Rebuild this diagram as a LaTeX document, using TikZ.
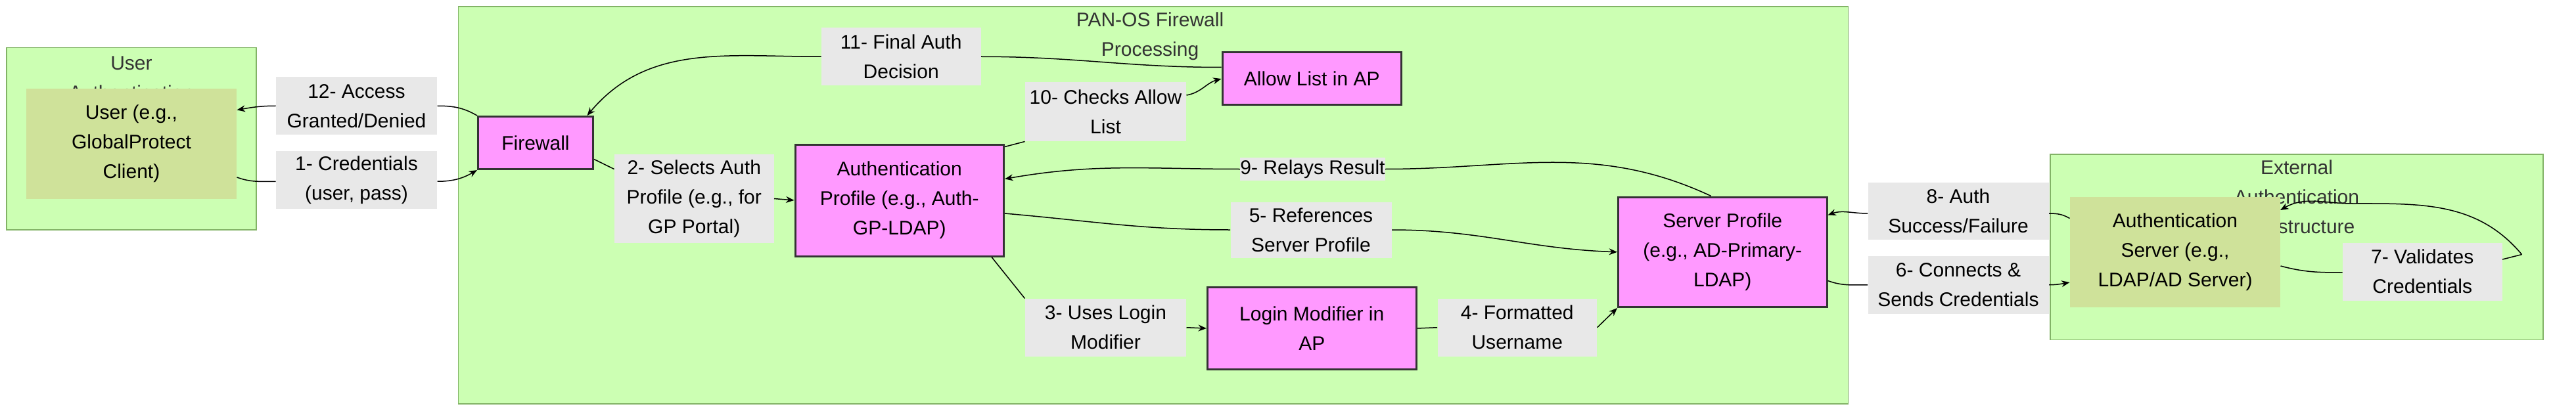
\documentclass[tikz,border=0pt]{standalone}
\usepackage{fontspec}
\setmainfont{Liberation Sans}
\usetikzlibrary{positioning, arrows.meta, calc}
\definecolor{clfill}{HTML}{CCFFB3}
\definecolor{cldraw}{HTML}{82B366}
\definecolor{stepfill}{HTML}{FF99FF}
\definecolor{actfill}{HTML}{CFE29A}
\definecolor{lblfill}{HTML}{E8E8E8}
\definecolor{titlecol}{HTML}{333333}
\tikzset{
  cluster/.style={draw=cldraw, fill=clfill, line width=0.6pt},
  cltitle/.style={text=titlecol, align=center, font=\fontsize{12}{18}\selectfont, anchor=north},
  procbox/.style={draw=titlecol, fill=stepfill, line width=1.2pt, align=center,
    font=\fontsize{12}{18}\selectfont, inner sep=0pt},
  actor/.style={draw=none, fill=actfill, align=center,
    font=\fontsize{12}{18}\selectfont, inner sep=0pt},
  lbl/.style={fill=lblfill, align=center, font=\fontsize{12}{18}\selectfont,
    inner sep=0pt},
  flow/.style={line width=0.6pt, -{Stealth[length=5pt,width=4pt]}},
  link/.style={line width=0.6pt}
}
\newcommand{\boxnode}[6]{% style, name, x1, y1, x2, y2
  \node[#1, minimum width=#5-#3, minimum height=#6-#4] (#2) at ({(#3+#5)/2},{(#4+#6)/2})}

\begin{document}
\begin{tikzpicture}[x=1pt, y=-1pt]
\useasboundingbox (0,0) rectangle (1568,254);

% clusters
\draw[cluster] (4,29) rectangle (156,140);
\node[cltitle] (ttluser) at (80,31) {User\\Authentication};
\draw[cluster] (279,4) rectangle (1125,246);
\node[cltitle] (ttlpan) at (700,4) {PAN-OS Firewall\\Processing};
\draw[cluster] (1248,94) rectangle (1548,207);
\node[cltitle] (ttlext) at (1398,94) {External\\Authentication\\Infrastructure};

% nodes
\boxnode{actor}{user}{16}{54}{144}{121} {User (e.g.,\\GlobalProtect\\Client)};
\boxnode{procbox}{fw}{291}{71}{361}{103} {Firewall};
\boxnode{procbox}{aprof}{484}{88}{611}{156} {Authentication\\Profile (e.g., Auth-\\GP-LDAP)};
\boxnode{procbox}{allow}{744}{32}{853}{64} {Allow List in AP};
\boxnode{procbox}{lmod}{735}{175}{862}{225} {Login Modifier in\\AP};
\boxnode{procbox}{sprof}{985}{120}{1112}{187} {Server Profile\\(e.g., AD-Primary-\\LDAP)};
\boxnode{actor}{asrv}{1260}{120}{1388}{187} {Authentication\\Server (e.g.,\\LDAP/AD Server)};

% edge labels
\boxnode{lbl}{l1}{168}{92}{266}{127} {1- Credentials\\(user, pass)};
\boxnode{lbl}{l12}{168}{47}{266}{82} {12- Access\\Granted/Denied};
\boxnode{lbl}{l2}{374}{94}{471}{148} {2- Selects Auth\\Profile (e.g., for\\GP Portal)};
\boxnode{lbl}{l3}{624}{182}{722}{217} {3- Uses Login\\Modifier};
\boxnode{lbl}{l4}{875}{182}{972}{217} {4- Formatted\\Username};
\boxnode{lbl}{l5}{749}{123}{847}{157} {5- References\\Server Profile};
\boxnode{lbl}{l6}{1137}{156}{1247}{191} {6- Connects \&\\Sends Credentials};
\boxnode{lbl}{l7}{1426}{148}{1523}{183} {7- Validates\\Credentials};
\boxnode{lbl}{l8}{1137}{111}{1247}{146} {8- Auth\\Success/Failure};
\boxnode{lbl}{l9}{758}{96}{840}{110} {9- Relays Result};
\boxnode{lbl}{l10}{624}{50}{722}{86} {10- Checks Allow\\List};
\boxnode{lbl}{l11}{500}{17}{597}{52} {11- Final Auth\\Decision};
\coordinate (loopr) at (1535,155);

% connectors
\draw[link] (user.east|-0,108) to[out=-20,in=180] ($(l1.west)+(0,1)$);
\draw[flow] ($(l1.east)+(0,1)$) to[out=0,in=210] (fw.south west);
\draw[link] (fw.north west) to[out=150,in=0] (l12.east);
\draw[flow] (l12.west) to[out=180,in=10] (user.east|-0,67);
\draw[link] (fw.east|-0,97) -- (l2.west|-0,103);
\draw[flow] (l2.east) -- (aprof.west);
\draw[link] ($(aprof.south east)+(-8,0)$) -- (l3.north west);
\draw[flow] (l3.east) -- (lmod.west);
\draw[link] (lmod.east) -- (l4.west);
\draw[flow] (l4.east) -- (sprof.south west);
\draw[link] (aprof.east|-0,130) to[out=-5,in=180] (l5.west);
\draw[flow] (l5.east) to[out=0,in=178] (sprof.west);
\draw[link] (sprof.east|-0,171) to[out=-20,in=180] (l6.west);
\draw[flow] (l6.east) to[out=0,in=190] (asrv.west|-0,172);
\draw[link] (asrv.east|-0,162) to[out=-15,in=180] (l7.west|-0,166);
\draw[link] (l7.east|-0,158) -- (loopr);
\draw[flow] (loopr) to[out=130,in=0] (1432,124) to[out=180,in=30] (1388,128);
\draw[link] (asrv.west|-0,133) to[out=150,in=0] (l8.east|-0,130);
\draw[flow] (l8.west|-0,130) to[out=180,in=20] (sprof.east|-0,131);
\draw[link] ($(sprof.north)+(-7,0)$) to[out=155,in=0] (l9.east);
\draw[flow] (l9.west) to[out=180,in=10] (aprof.east|-0,109);
\draw[link] ($(aprof.north east)+(0,2)$) -- (l10.south west);
\draw[flow] ($(l10.east)+(0,-10)$) to[out=10,in=195] (allow.west);
\draw[link] (allow.west|-0,41) to[out=180,in=0] (l11.east);
\draw[flow] (l11.west) to[out=180,in=50] ($(fw.north west)+(67,0)$);
\end{tikzpicture}
\end{document}
